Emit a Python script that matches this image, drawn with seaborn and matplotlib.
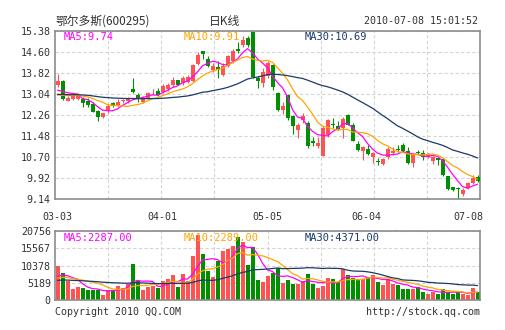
import numpy as np
import pandas as pd
import matplotlib
matplotlib.use("Agg")
import matplotlib.pyplot as plt
import matplotlib.transforms as mtransforms
import seaborn as sns

# ---------------- data ----------------
opens = [13.37, 13.52, 12.79, 12.85, 12.87, 12.84, 12.79, 12.66, 12.42, 12.17,
         12.45, 12.69, 12.64, 12.77, 12.79, 13.23, 13.00, 12.76, 12.88, 13.07,
         13.15, 13.12, 13.24, 13.36, 13.55, 13.45, 13.49, 13.51, 14.15, 14.62,
         14.35, 13.94, 14.03, 13.76, 14.07, 14.25, 14.72, 14.85, 15.12, 15.36,
         13.65, 13.45, 13.70, 14.10, 13.08, 12.46, 13.01, 12.21, 11.71, 12.09,
         11.96, 11.28, 11.10, 10.72, 11.53, 11.93, 11.84, 11.78, 12.25, 11.90,
         11.18, 10.93, 11.01, 10.71, 10.54, 10.43, 10.71, 10.84, 10.99, 11.15,
         10.93, 10.49, 10.90, 10.86, 10.71, 10.56, 10.65, 10.61, 9.99, 9.57,
         9.53, 9.33, 9.54, 9.75, 9.97]
closes = [13.53, 12.84, 12.88, 12.95, 12.99, 12.69, 12.63, 12.38, 12.17, 12.32,
          12.60, 12.61, 12.74, 12.80, 12.84, 13.11, 12.88, 12.90, 13.07, 13.09,
          13.02, 13.35, 13.36, 13.57, 13.39, 13.63, 13.66, 14.13, 14.50, 14.52,
          14.07, 14.07, 13.94, 14.07, 14.44, 14.62, 14.65, 15.06, 14.85, 13.66,
          13.52, 13.86, 14.19, 13.29, 12.46, 12.58, 12.15, 11.84, 11.90, 12.21,
          11.10, 11.22, 11.22, 11.78, 12.09, 11.88, 11.75, 12.12, 11.90, 11.28,
          10.97, 11.06, 10.81, 10.86, 10.52, 10.63, 10.99, 10.94, 10.97, 10.93,
          10.47, 10.77, 10.84, 10.69, 10.81, 10.69, 10.59, 10.03, 9.50, 9.48,
          9.52, 9.48, 9.72, 9.91, 9.82]
highs = [13.78, 13.56, 12.95, 13.00, 13.07, 12.94, 12.88, 12.76, 12.45, 12.35,
         12.67, 12.76, 12.84, 12.87, 12.94, 13.62, 13.07, 12.97, 13.13, 13.21,
         13.25, 13.40, 13.45, 13.66, 13.57, 13.70, 13.76, 14.15, 14.60, 14.65,
         14.44, 14.20, 14.25, 14.20, 14.50, 14.72, 14.99, 15.20, 15.20, 15.38,
         13.70, 14.00, 14.28, 14.15, 13.11, 12.74, 13.04, 12.27, 11.96, 12.33,
         12.02, 11.43, 11.43, 11.84, 12.12, 12.15, 12.02, 12.17, 12.30, 11.96,
         11.30, 11.10, 11.16, 10.90, 10.65, 10.66, 11.06, 11.06, 11.15, 11.21,
         11.06, 10.86, 10.96, 10.96, 10.86, 10.74, 10.71, 10.65, 10.01, 9.60,
         9.57, 9.54, 9.76, 10.03, 10.03]
lows = [13.31, 12.82, 12.77, 12.82, 12.82, 12.57, 12.57, 12.38, 12.05, 12.14,
        12.32, 12.57, 12.60, 12.69, 12.69, 13.07, 12.76, 12.72, 12.84, 12.99,
        12.97, 13.09, 13.14, 13.29, 13.36, 13.39, 13.45, 13.49, 14.13, 14.35,
        14.03, 13.85, 13.63, 13.70, 14.03, 14.19, 14.56, 14.80, 14.78, 13.63,
        13.26, 13.30, 13.63, 13.20, 12.40, 12.30, 12.09, 11.55, 11.40, 11.96,
        11.03, 11.10, 11.03, 10.72, 11.43, 11.78, 11.71, 11.41, 11.88, 11.28,
        10.91, 10.60, 10.79, 10.46, 10.40, 10.41, 10.61, 10.78, 10.90, 10.90,
        10.44, 10.34, 10.80, 10.59, 10.68, 10.44, 10.40, 10.01, 9.48, 9.45,
        9.14, 9.25, 9.50, 9.70, 9.78]
volumes = [10330, 8120, 5620, 3310, 3910, 3610, 3110, 3110, 2910, 1600,
           3110, 3110, 4310, 3610, 4810, 10930, 5820, 3110, 3810, 4310,
           3610, 5820, 6320, 7620, 3910, 7820, 5820, 13340, 19450, 13840,
           8620, 6920, 11830, 14840, 15440, 16340, 18850, 17450, 10630, 15940,
           6120, 5310, 7320, 8120, 9630, 5110, 6120, 4810, 4810, 5620,
           7820, 4810, 3610, 4110, 6620, 6370, 5360, 9370, 7570, 6570,
           6370, 6370, 6870, 7570, 5360, 4660, 6370, 4860, 4560, 3360,
           3360, 3360, 4060, 2360, 1850, 2360, 1850, 3260, 2360, 1850,
           2360, 1850, 1650, 3560, 2360]

date_labels = ["03-03", "04-01", "05-05", "06-04", "07-08"]
date_label_bars = [0, 21, 42, 63, 84]
price_ticks = [9.14, 9.92, 10.70, 11.48, 12.26, 13.04, 13.82, 14.60, 15.38]
volume_ticks = [0, 5189, 10378, 15567, 20756]
ma_windows = [5, 10, 30]
price_ma_seed = [13.10, 12.94, 13.01]      # MA level just before the first bar
volume_ma_seed = [6320, 6210, 5770]
price_ma_labels = ["MA5:9.74", "MA10:9.91", "MA30:10.69"]
volume_ma_labels = ["MA5:2287.00", "MA10:2289.00", "MA30:4371.00"]
title_text = "鄂尔多斯(600295)"
chart_type_text = "日K线"
timestamp_text = "2010-07-08 15:01:52"
copyright_text = "Copyright 2010 QQ.COM"
url_text = "http://stock.qq.com"

# ---------------- style ----------------
RED = "#ff5252"
GREEN = "#008f00"
MA_COLORS = ["#ff00ff", "#ffa500", "#1a3a6a"]
GRID = "#d4d4d4"
SPINE = "#8c8c8c"
TXT = "#333333"

sns.set_theme(style="white")
plt.rcParams["font.family"] = ["DejaVu Sans Mono", "Noto Sans CJK SC"]
FS = 7.2

n = len(closes)
df = pd.DataFrame({"idx": np.arange(n), "open": opens, "high": highs,
                   "low": lows, "close": closes, "volume": volumes})
df["up"] = df["close"] >= df["open"]
df["color"] = np.where(df["up"], RED, GREEN)


def moving_avg(vals, w, seed):
    out = []
    for i in range(len(vals)):
        lo = max(0, i - w + 1)
        s = sum(vals[lo:i + 1]) + seed * (w - (i + 1 - lo))
        out.append(s / w)
    return out


for w, sp, sv in zip(ma_windows, price_ma_seed, volume_ma_seed):
    df[f"ma{w}"] = moving_avg(closes, w, sp)
    df[f"vma{w}"] = moving_avg(volumes, w, sv)

W, H = 505, 330
fig = plt.figure(figsize=(W / 100, H / 100), dpi=100)
fig.patch.set_facecolor("white")
ax = fig.add_axes([55 / W, 1 - 199 / H, 425 / W, 168 / H])
axv = fig.add_axes([55 / W, 1 - 300 / H, 425 / W, 69 / H])

xlim = (-0.5, n - 0.5)
grid_x = np.linspace(xlim[0], xlim[1], 9)[1:-1]

for a in (ax, axv):
    a.set_facecolor("white")
    a.set_xlim(*xlim)
    for s in a.spines.values():
        s.set_color(SPINE)
        s.set_linewidth(1.2)
    a.set_xticks(grid_x, minor=True)
    a.grid(which="minor", axis="x", color=GRID, lw=0.8, ls=(0, (3, 2)))
    a.grid(which="major", axis="y", color=GRID, lw=0.8, ls=(0, (3, 2)))
    a.tick_params(which="both", length=0, labelsize=FS, colors=TXT, pad=3)
    a.set_axisbelow(True)

# candles
ax.vlines(df["idx"], df["low"], df["high"], colors=df["color"], lw=0.8, zorder=2)
body_bottom = np.minimum(df["open"], df["close"])
body_h = np.maximum((df["close"] - df["open"]).abs(), 0.015)
ax.bar(df["idx"], body_h, bottom=body_bottom, width=0.8, color=df["color"],
       linewidth=0, zorder=3)
for w, c in zip(ma_windows, MA_COLORS):
    sns.lineplot(data=df, x="idx", y=f"ma{w}", ax=ax, color=c, lw=0.9,
                 legend=False, zorder=4)
ax.set_ylim(price_ticks[0], price_ticks[-1])
ax.set_yticks(price_ticks)
ax.set_yticklabels([f"{t:.2f}" for t in price_ticks])
ax.set_xticks(date_label_bars)
ax.set_xticklabels(date_labels)
ax.tick_params(axis="x", pad=9)
ax.set_xlabel("")
ax.set_ylabel("")
lbls = ax.get_xticklabels()
lbls[-1].set_transform(lbls[-1].get_transform() +
                       mtransforms.ScaledTranslation(-9 / 100, 0, fig.dpi_scale_trans))
lbls[3].set_transform(lbls[3].get_transform() +
                      mtransforms.ScaledTranslation(-6 / 100, 0, fig.dpi_scale_trans))

# volume
axv.bar(df["idx"], df["volume"], width=0.8, color=df["color"], linewidth=0, zorder=2)
for w, c in zip(ma_windows, MA_COLORS):
    sns.lineplot(data=df, x="idx", y=f"vma{w}", ax=axv, color=c, lw=0.9,
                 legend=False, zorder=4)
axv.set_ylim(volume_ticks[0], volume_ticks[-1])
axv.set_yticks(volume_ticks)
axv.set_yticklabels([str(t) for t in volume_ticks])
axv.set_xticks([])
axv.set_xlabel("")
axv.set_ylabel("")

# texts
def ftext(x, y, s, **kw):
    fig.text(x / W, 1 - y / H, s, va="center", **kw)

ftext(55, 21, title_text, ha="left", fontsize=8.5, color=TXT,
      family=["Noto Sans CJK SC", "DejaVu Sans Mono"])
ftext(225, 21, chart_type_text, ha="center", fontsize=8.5, color=TXT,
      family=["Noto Sans CJK SC", "DejaVu Sans Mono"])
ftext(478, 21, timestamp_text, ha="right", fontsize=FS, color=TXT)
legend_x = [64, 184, 305]
for x, s, c in zip(legend_x, price_ma_labels, MA_COLORS):
    ftext(x, 37, s, ha="left", fontsize=FS + 0.3, color=c)
for x, s, c in zip(legend_x, volume_ma_labels, MA_COLORS):
    ftext(x, 238, s, ha="left", fontsize=FS + 0.3, color=c)
ftext(55, 312, copyright_text, ha="left", fontsize=FS, color=TXT)
ftext(480, 312, url_text, ha="right", fontsize=FS, color=TXT)

fig.savefig("out.png", dpi=100, facecolor="white")
